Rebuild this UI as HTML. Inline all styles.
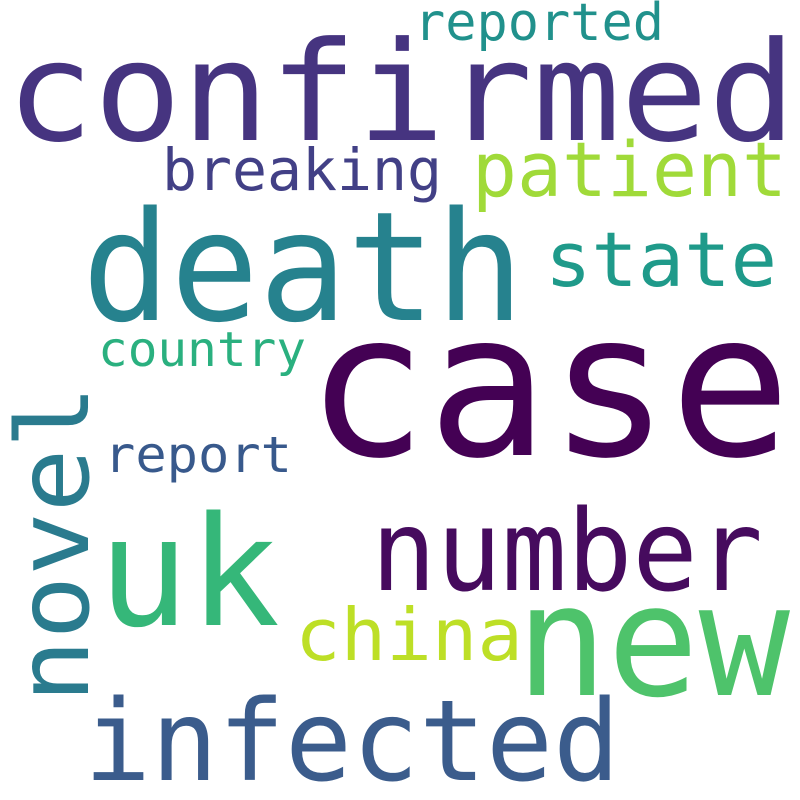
<!DOCTYPE html>
<html>
<head>
<meta charset="utf-8">
<style>
html,body{margin:0;padding:0;background:#fff;}
svg{display:block;}
text{font-family:"DejaVu Sans Mono","Liberation Mono",monospace;}
</style>
</head>
<body>
<svg width="800" height="800" viewBox="0 0 800 800">
<rect x="0" y="0" width="800" height="800" fill="#ffffff"/>
<text x="6" y="140" font-size="138" fill="#463480" textLength="790" lengthAdjust="spacingAndGlyphs">confirmed</text>
<text x="414" y="40" font-size="52" fill="#21918c" textLength="250" lengthAdjust="spacingAndGlyphs">reported</text>
<text x="162" y="190" font-size="58" fill="#424086" textLength="280" lengthAdjust="spacingAndGlyphs">breaking</text>
<text x="472" y="196" font-size="76" fill="#a0da39" textLength="315" lengthAdjust="spacingAndGlyphs">patient</text>
<text x="82" y="320" font-size="152" fill="#26828e" textLength="442" lengthAdjust="spacingAndGlyphs">death</text>
<text x="545" y="286" font-size="76" fill="#1f9a8a" textLength="232" lengthAdjust="spacingAndGlyphs">state</text>
<text x="98" y="366" font-size="48" fill="#2ab07f" textLength="208" lengthAdjust="spacingAndGlyphs">country</text>
<text x="306" y="455" font-size="200" fill="#440154" textLength="485" lengthAdjust="spacingAndGlyphs">case</text>
<text x="104" y="472" font-size="50" fill="#38598c" textLength="188" lengthAdjust="spacingAndGlyphs">report</text>
<text transform="translate(88,703) rotate(-90)" x="0" y="0" font-size="100" fill="#2a7b8e" textLength="318" lengthAdjust="spacingAndGlyphs">novel</text>
<text x="98" y="625" font-size="152" fill="#35b779" textLength="182" lengthAdjust="spacingAndGlyphs">uk</text>
<text x="371" y="590" font-size="112" fill="#460b5e" textLength="392" lengthAdjust="spacingAndGlyphs">number</text>
<text x="295" y="660" font-size="72" fill="#bddf26" textLength="228" lengthAdjust="spacingAndGlyphs">china</text>
<text x="516" y="695" font-size="155" fill="#4ec36b" textLength="274" lengthAdjust="spacingAndGlyphs">new</text>
<text x="84" y="780" font-size="112" fill="#3b5c8c" textLength="536" lengthAdjust="spacingAndGlyphs">infected</text>
</svg>
</body>
</html>
